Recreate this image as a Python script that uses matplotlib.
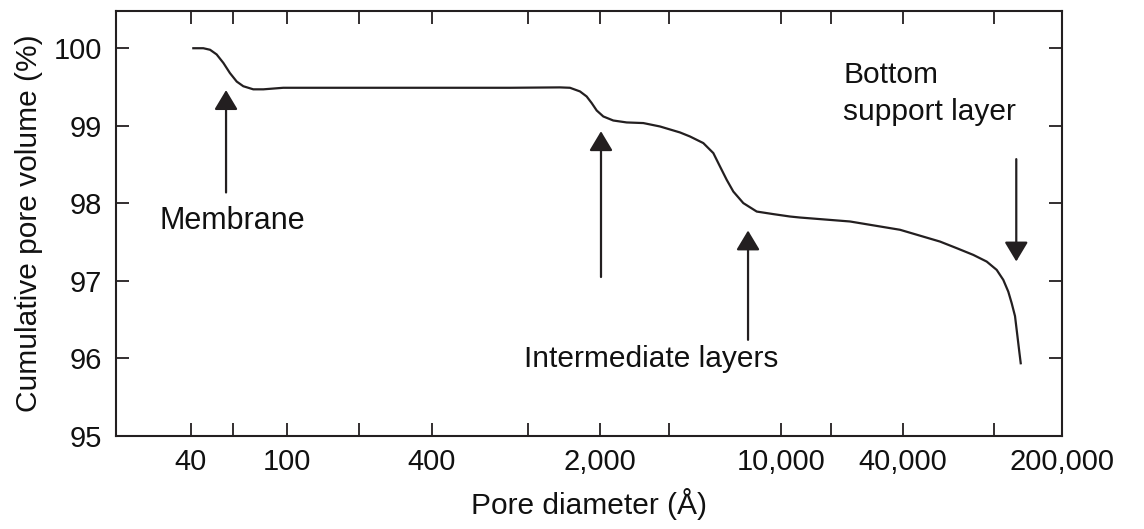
import matplotlib
matplotlib.use("Agg")
import matplotlib.pyplot as plt
import numpy as np

# Curve: pore diameter (Angstrom) vs cumulative pore volume (%)
pore_diameter = [40.9, 45.0, 48.0, 51.1, 54.5, 58.0, 61.9, 65.9, 72.5, 79.8,
                 96.5, 124.6, 845, 1363, 1500, 1651, 1760, 1847, 1938,
                 2060, 2251, 2536, 2940, 3410, 4074, 4452, 5012, 5479, 5814,
                 6171, 6545, 7153, 8060, 9342, 11080, 12410, 21900,
                 38670, 58180, 68890, 81510, 93330, 103250, 110400, 116100, 120200,
                 124300, 127200, 129800, 131700]
cumulative_volume = [100.0, 100.0, 99.98, 99.92, 99.81, 99.68, 99.57, 99.51, 99.47, 99.47,
                     99.49, 99.49, 99.49, 99.495, 99.49, 99.443, 99.378, 99.293, 99.197,
                     99.120, 99.068, 99.043, 99.035, 98.991, 98.914, 98.862, 98.777, 98.648, 98.475,
                     98.303, 98.152, 98.003, 97.894, 97.861, 97.830, 97.817, 97.766,
                     97.659, 97.507, 97.422, 97.335, 97.249, 97.142, 97.013, 96.862, 96.712,
                     96.546, 96.303, 96.088, 95.938]

# labelled x ticks, unlabelled x ticks in between, y ticks
x_ticks = [40, 100, 400, 2000, 10000, 40000, 200000]
x_tick_labels = ["40", "100", "400", "2,000", "10,000", "40,000", "200,000"]
x_minor_ticks = [60, 200, 1000, 3700, 17600, 100000]
y_ticks = [95, 96, 97, 98, 99, 100]

# the hand-drawn axis is only roughly logarithmic: map log10 through the labelled ticks
axis_log = np.log10([10, 40, 100, 400, 2000, 10000, 40000, 200000, 1e6])
axis_pos = np.array([45.7, 191, 287, 432, 600, 781, 903, 1062, 1221])


def forward(x):
    x = np.clip(np.asarray(x, dtype=float), 1e-9, None)
    return np.interp(np.log10(x), axis_log, axis_pos)


def inverse(p):
    return 10 ** np.interp(np.asarray(p, dtype=float), axis_pos, axis_log)


ink = "#231f20"
txt = "#111111"
plt.rcParams["font.family"] = ["Liberation Sans", "DejaVu Sans"]

fig = plt.figure(figsize=(11.44, 5.29), dpi=100)
ax = fig.add_axes([116 / 1144, 1 - 436 / 529, (1062 - 116) / 1144, (436 - 11) / 529])

ax.plot(pore_diameter, cumulative_volume, color=ink, lw=1.6, solid_joinstyle="round")

ax.set_xscale("function", functions=(forward, inverse))
ax.set_xlim(19.56, 200000)
ax.set_ylim(95, 100.48)

ax.set_xticks(x_ticks)
ax.set_xticklabels(x_tick_labels)
ax.set_xticks(x_minor_ticks, minor=True)
ax.set_yticks(y_ticks)
ax.set_yticklabels([str(v) for v in y_ticks])

ax.tick_params(axis="both", which="both", direction="in", length=9.5, width=1.3,
               color=ink, top=True, right=True, labelsize=21, labelcolor=txt)
ax.tick_params(axis="x", which="major", pad=9)
ax.tick_params(axis="y", which="major", pad=10)
for s in ax.spines.values():
    s.set_linewidth(1.5)
    s.set_color(ink)

ax.set_xlabel("Pore diameter (Å)", fontsize=21.5, labelpad=8, color=txt)
ax.set_ylabel("Cumulative pore volume (%)", fontsize=21.5, labelpad=8, color=txt)

# arrows and annotations
arrow = dict(arrowstyle="-|>,head_length=0.6,head_width=0.36", color=ink, lw=1.6,
             shrinkA=0, shrinkB=0, mutation_scale=20)
ax.annotate("", xy=(55.9, 99.46), xytext=(55.9, 98.14), arrowprops=arrow)
ax.annotate("", xy=(2018, 98.93), xytext=(2018, 97.05), arrowprops=arrow)
ax.annotate("", xy=(7460, 97.65), xytext=(7460, 96.24), arrowprops=arrow)
ax.annotate("", xy=(125900, 97.25), xytext=(125900, 98.57), arrowprops=arrow)

ax.text(59.2, 97.67, "Membrane", fontsize=22, ha="center", va="baseline", color=txt)
ax.text(3148, 95.89, "Intermediate layers", fontsize=21.5, ha="center", va="baseline",
        color=txt)
ax.text(20230, 99.555, "Bottom", fontsize=21.5, ha="left", va="baseline", color=txt)
ax.text(20230, 99.077, "support layer", fontsize=21.5, ha="left", va="baseline", color=txt)

fig.savefig("out.png", dpi=100)
